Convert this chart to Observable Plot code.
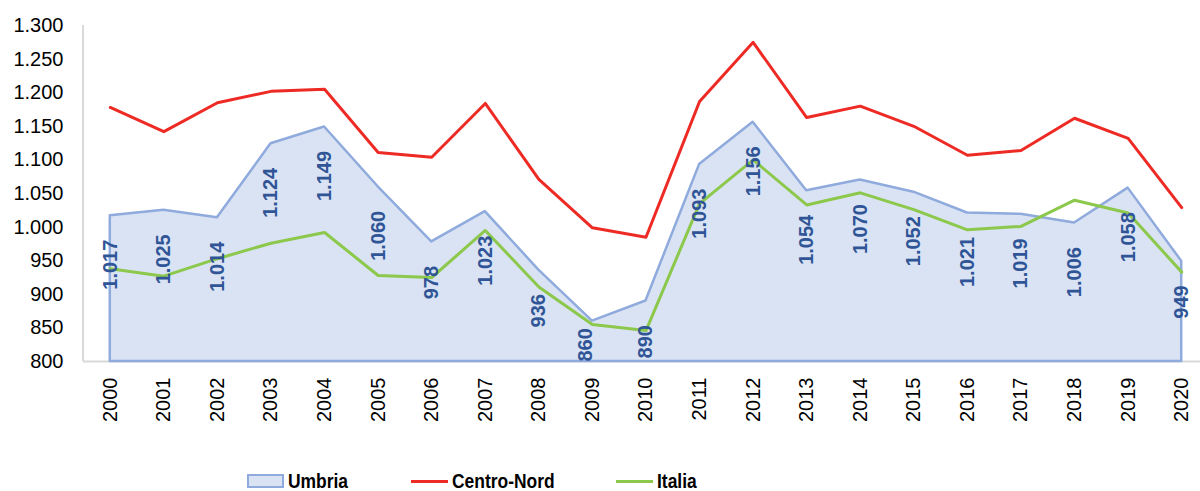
<!DOCTYPE html>
<html><head><meta charset="utf-8">
<script src="https://cdn.jsdelivr.net/npm/d3@7"></script>
<script src="https://cdn.jsdelivr.net/npm/@observablehq/plot@0.6"></script>
<style>
html,body{margin:0;padding:0;background:#fff;overflow:hidden;width:1200px;height:491px}
#chart{width:1200px;height:460px;overflow:hidden}
#chart svg{display:block;max-width:none !important}
.legend{position:relative;width:1200px;height:31px;font:bold 21px "Liberation Sans",Arial,sans-serif;color:#000}
.item{position:absolute;top:11px;height:20px;display:flex;align-items:center;white-space:nowrap}
.item .t{display:inline-block;transform:scaleX(0.83);transform-origin:0 50%}
.sw-area{width:33px;height:10px;background:#DAE3F3;border:2px solid #8FAADC;margin-right:4px}
.sw-line{width:37px;height:3px;margin-right:4px}
</style></head>
<body>
<div id="chart"></div>
<div class="legend" id="legend"></div>
<script>
const years = [2000,2001,2002,2003,2004,2005,2006,2007,2008,2009,2010,2011,2012,2013,2014,2015,2016,2017,2018,2019,2020];
const umbria = [1017,1025,1014,1124,1149,1060,978,1023,936,860,890,1093,1156,1054,1070,1052,1021,1019,1006,1058,949];
const centroNord = [1178,1142,1185,1202,1205,1111,1104,1184,1071,999,985,1187,1275,1163,1180,1150,1107,1114,1162,1132,1029];
const italia = [938,927,953,976,992,928,925,995,911,855,846,1035,1100,1033,1051,1026,996,1001,1040,1021,933];
const yTicks = [800,850,900,950,1000,1050,1100,1150,1200,1250,1300];
const seriesNames = ["Umbria","Centro-Nord","Italia"];

const C_FILL = "#DAE3F3", C_EDGE = "#8FAADC", C_RED = "#EE2A24", C_GREEN = "#8CC84B", C_LABEL = "#2F5597", C_AXIS = "#D9D9D9";

const rows = years.map((y,i) => ({year: y, umbria: umbria[i], cn: centroNord[i], it: italia[i]}));
const fmt = d3.formatLocale({decimal: ",", thousands: ".", grouping: [3], currency: ["", "€"]}).format(",d");
const floorLimit = 885; // labels that would fall below the axis sit on the floor

// left axis line (value axis spine)
const leftSpine = (index, scales, values, dims) => {
  const y = scales.y;
  return d3.create("svg:line")
    .attr("x1", dims.marginLeft).attr("x2", dims.marginLeft)
    .attr("y1", y(yTicks[yTicks.length - 1])).attr("y2", y(yTicks[0]))
    .attr("stroke", C_AXIS).attr("stroke-width", 2).node();
};

const plot = Plot.plot({
  width: 1208, height: 460,
  marginLeft: 83, marginRight: 0, marginTop: 25, marginBottom: 99,
  style: {fontFamily: "'Liberation Sans', Arial, sans-serif", fontSize: "20px", color: "#000", background: "#fff"},
  x: {type: "point", domain: years, padding: 0.5, round: false},
  y: {domain: [800, 1300]},
  marks: [
    Plot.axisY({ticks: yTicks, tickFormat: fmt, tickSize: 0, tickPadding: 20, fontSize: 20, label: null}),
    Plot.axisX({tickRotate: -90, tickSize: 0, tickPadding: 16, fontSize: 20, label: null, tickFormat: d => String(d)}),
    Plot.ruleY([800], {stroke: C_AXIS, strokeWidth: 2}),
    leftSpine,
    Plot.areaY(rows, {x: "year", y1: 800, y2: "umbria", fill: C_FILL, stroke: C_EDGE, strokeWidth: 2.5, strokeLinejoin: "round"}),
    Plot.line(rows, {x: "year", y: "cn", stroke: C_RED, strokeWidth: 3, strokeLinejoin: "round"}),
    Plot.line(rows, {x: "year", y: "it", stroke: C_GREEN, strokeWidth: 3, strokeLinejoin: "round"}),
    Plot.text(rows.filter(d => d.umbria >= floorLimit), {x: "year", y: "umbria", text: d => fmt(d.umbria), rotate: -90, textAnchor: "end", dy: 24, fill: C_LABEL, fontWeight: "bold", fontSize: 20}),
    Plot.text(rows.filter(d => d.umbria < floorLimit), {x: "year", frameAnchor: "bottom", text: d => fmt(d.umbria), rotate: -90, textAnchor: "start", fill: C_LABEL, fontWeight: "bold", fontSize: 20})
  ]
});
document.getElementById("chart").appendChild(plot);

const legend = document.getElementById("legend");
const items = [
  {name: seriesNames[0], type: "area", left: 247},
  {name: seriesNames[1], type: "line", color: C_RED, left: 411},
  {name: seriesNames[2], type: "line", color: C_GREEN, left: 616}
];
for (const it of items) {
  const el = document.createElement("div");
  el.className = "item";
  el.style.left = it.left + "px";
  const sw = document.createElement("span");
  if (it.type === "area") sw.className = "sw-area";
  else { sw.className = "sw-line"; sw.style.background = it.color; }
  const t = document.createElement("span");
  t.className = "t";
  t.textContent = it.name;
  el.appendChild(sw); el.appendChild(t);
  legend.appendChild(el);
}
</script>
</body></html>
